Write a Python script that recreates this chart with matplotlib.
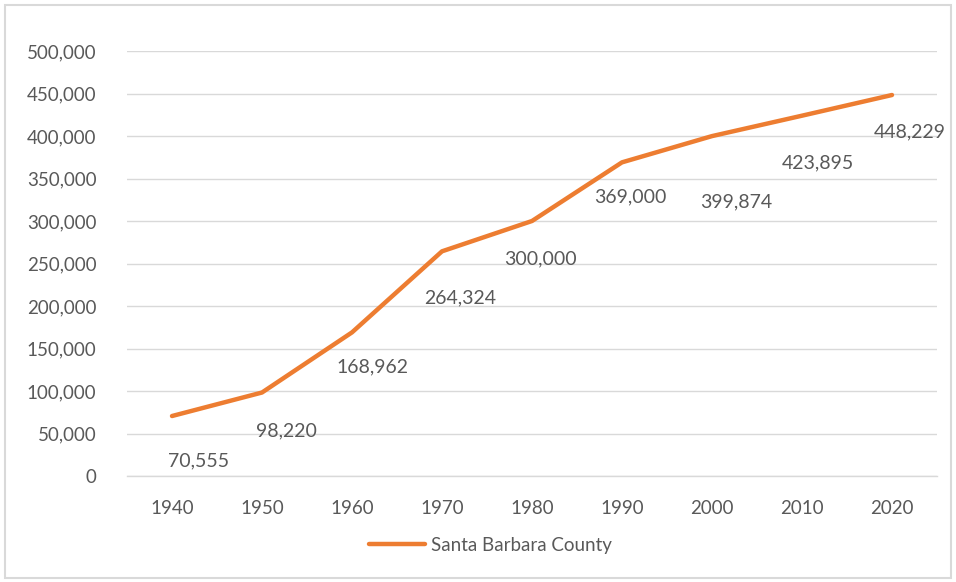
import matplotlib.pyplot as plt
import numpy as np
from matplotlib.patches import Rectangle
from matplotlib.ticker import FuncFormatter

plt.rcParams['font.family'] = ['Lato', 'DejaVu Sans']

years = ['1940', '1950', '1960', '1970', '1980', '1990', '2000', '2010', '2020']
population = [70555, 98220, 168962, 264324, 300000, 369000, 399874, 423895, 448229]
series_name = 'Santa Barbara County'

# label offsets in pixels (right, down) to mimic Excel placement
label_dx = [27, 24, 20, 18, 8, 8, 24, 16, 18]
label_dy = [45, 38, 34, 47, 38, 35, 66, 47, 37]

grey = '#595959'
orange = '#ED7D31'

fig = plt.figure(figsize=(9.56, 5.82), dpi=100)
ax = fig.add_axes([127 / 956, 1 - 476 / 582, 810 / 956, 425 / 582])

x = np.arange(len(years))
line, = ax.plot(x, population, color=orange, lw=3.2, solid_capstyle='round',
                label=series_name, zorder=3)

for xi, v, dx, dy in zip(x, population, label_dx, label_dy):
    ax.annotate(f'{v:,}', xy=(xi, v), xytext=(dx * 0.72, -dy * 0.72),
                textcoords='offset points', ha='center', va='center',
                fontsize=14, color=grey)

ax.set_xlim(-0.5, len(years) - 0.5)
ax.set_ylim(0, 500000)
ax.set_yticks(np.arange(0, 500001, 50000))
ax.yaxis.set_major_formatter(FuncFormatter(lambda v, p: f'{int(v):,}'))
ax.set_xticks(x)
ax.set_xticklabels(years)
ax.grid(axis='y', color='#D9D9D9', lw=1)
ax.axhline(0, color='#D9D9D9', lw=1, clip_on=False, zorder=0)
ax.set_axisbelow(True)
for s in ax.spines.values():
    s.set_visible(False)
ax.tick_params(length=0, labelsize=13.5, labelcolor=grey)
ax.tick_params(axis='y', pad=22)
ax.tick_params(axis='x', pad=17)

fig.legend(handles=[line], loc='center', bbox_to_anchor=(0.513, 1 - 545 / 582),
           frameon=False, fontsize=13.5, labelcolor=grey, handlelength=3,
           handletextpad=0.3)

fig.add_artist(Rectangle((5 / 956, 4 / 582), 946 / 956, 573 / 582,
                         transform=fig.transFigure, fill=False,
                         edgecolor='#D9D9D9', lw=1.5))

fig.savefig('out.png', dpi=100)
